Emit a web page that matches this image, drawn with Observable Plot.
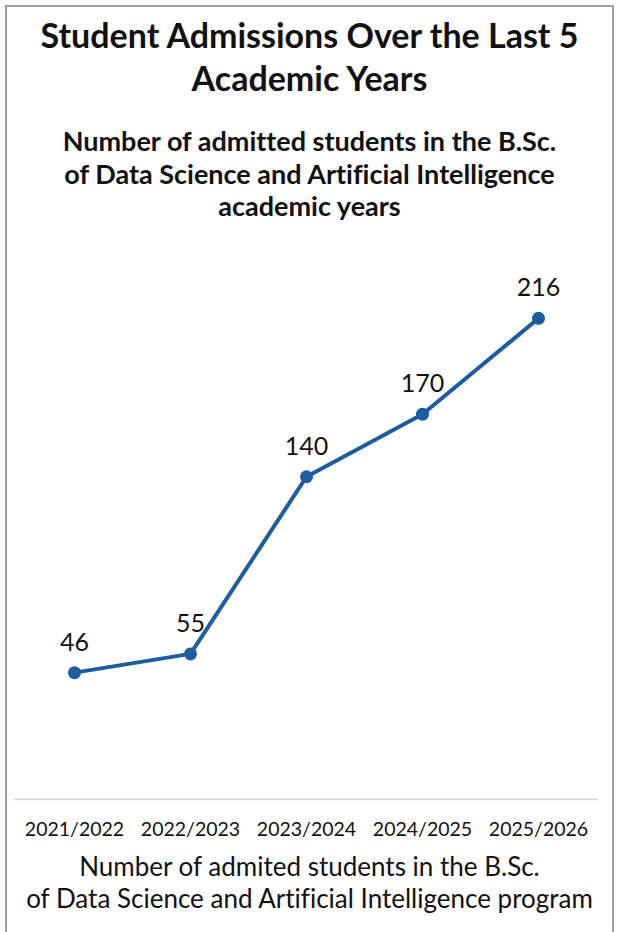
<!DOCTYPE html>
<html>
<head>
<meta charset="utf-8">
<script src="https://cdn.jsdelivr.net/npm/d3@7"></script>
<script src="https://cdn.jsdelivr.net/npm/@observablehq/plot@0.6"></script>
<style>
  html, body { margin: 0; padding: 0; background: #fff; }
  #wrap { position: relative; width: 619px; height: 932px; overflow: hidden; background: #fff; font-family: Lato, "Open Sans", sans-serif; color: #111; font-variant-ligatures: none; }
  #border { position: absolute; left: 5px; top: 5px; width: 609px; height: 960px; border: 2px solid #a0a0a0; box-sizing: border-box; }
  .txt { position: absolute; left: 0; width: 619px; text-align: center; }
  #title { top: 13px; font-size: 34px; line-height: 43px; font-weight: 700; }
  #subtitle { top: 125px; font-size: 27px; line-height: 32.5px; font-weight: 700; }
  #xlabel { top: 851px; font-size: 26px; line-height: 31.5px; font-weight: 400; white-space: nowrap; }
  #chart { position: absolute; left: 0; top: 225px; }
</style>
</head>
<body>
<div id="wrap">
  <div id="border"></div>
  <div id="title" class="txt">Student Admissions Over the Last 5<br>Academic Years</div>
  <div id="subtitle" class="txt">Number of admitted students in the B.Sc.<br>of Data Science and Artificial Intelligence<br>academic years</div>
  <div id="chart"></div>
  <div id="xlabel" class="txt">Number of admited students in the B.Sc.<br>of Data Science and Artificial Intelligence program</div>
</div>
<script>
const years = ["2021/2022", "2022/2023", "2023/2024", "2024/2025", "2025/2026"];
const admissions = [46, 55, 140, 170, 216];
const data = years.map((year, i) => ({year, value: admissions[i]}));

const lineColor = "#1f5c9e";

const chart = Plot.plot({
  width: 619,
  height: 624,
  marginTop: 22,
  marginBottom: 50,
  marginLeft: 14,
  marginRight: 22,
  insetBottom: 31,
  style: {fontFamily: "Lato, 'Open Sans', sans-serif", background: "transparent", overflow: "visible", color: "#111"},
  x: {type: "point", domain: years, padding: 0.5, label: null},
  y: {domain: [0, 250], axis: null},
  marks: [
    Plot.frame({anchor: "bottom", stroke: "#d6d6d6", strokeWidth: 1.5}),
    Plot.axisX({tickSize: 0, tickPadding: 23, fontSize: 19.5, label: null, fill: "#111"}),
    Plot.line(data, {x: "year", y: "value", stroke: lineColor, strokeWidth: 4, strokeLinejoin: "round"}),
    Plot.dot(data, {x: "year", y: "value", r: 6.5, fill: lineColor, stroke: null}),
    Plot.text(data, {x: "year", y: "value", text: d => String(d.value), lineAnchor: "bottom", dy: -22, fontSize: 25, fill: "#111"})
  ]
});
document.getElementById("chart").appendChild(chart);
</script>
</body>
</html>
